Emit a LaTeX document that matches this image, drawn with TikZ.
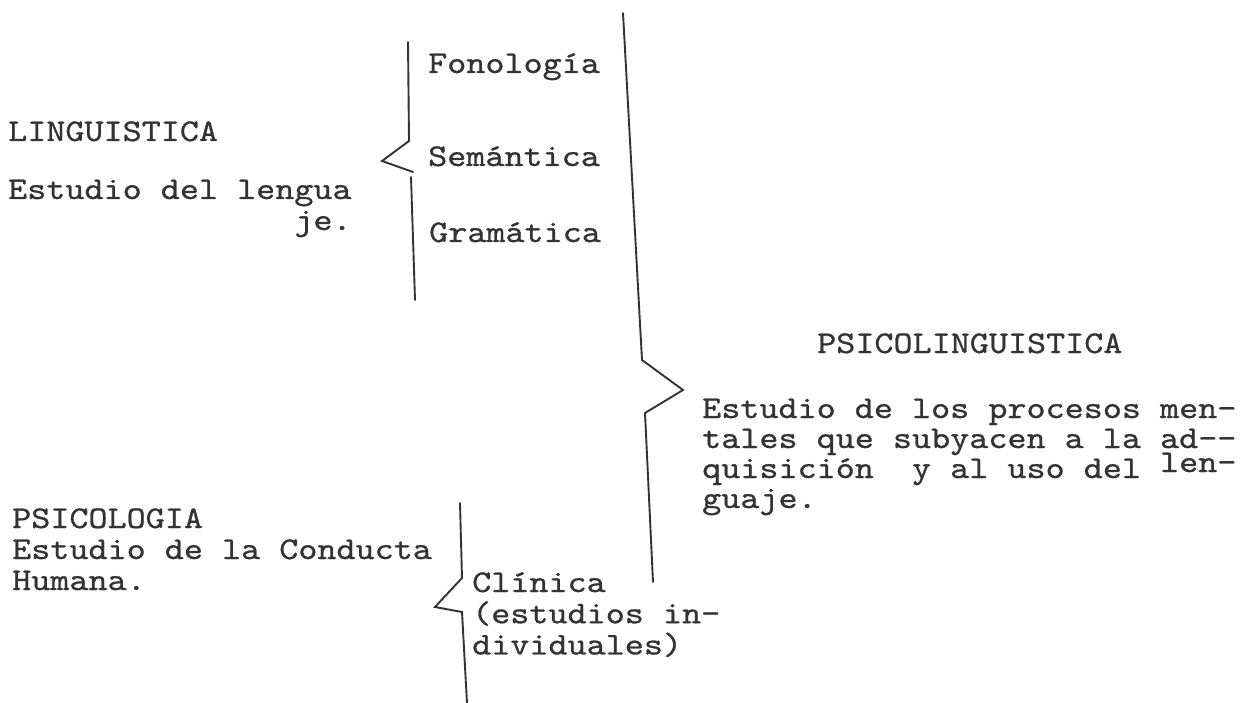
\documentclass[tikz,border=0pt]{standalone}
\usepackage{fontspec}
\usepackage{xcolor}
\usepackage{tikz}
\usetikzlibrary{positioning,calc}
\newfontfamily\tw{lmmono10-regular.otf}[FakeStretch=1.15,FakeBold=0.8]
\definecolor{ink}{gray}{0.2}
\newcommand\txtblock[1]{\begin{tabular}[t]{@{}l@{}}#1\end{tabular}}
\tikzset{
  txt/.style={anchor=base west, inner sep=0pt, text=ink, font=\tw\fontsize{31.6}{31}\selectfont},
  brace/.style={draw=ink, line width=1.9pt, line join=miter, line cap=round}
}

\begin{document}
\begin{tikzpicture}[x=1pt,y=-1pt]
    \useasboundingbox (0,0) rectangle (1248,703);

    % Linguistica
    \node [txt] (ling) at (8,141) {LINGUISTICA};
    \node [txt] (lingdef) at (8,199) {\txtblock{Estudio del lengua\\ \phantom{Estudio del len}je.}};
    \node [txt] (fono) at (428,73) {Fonología};
    \node [txt] (sema) at (428,166) {Semántica};
    \node [txt] (gram) at (429,242) {Gramática};

    % Psicolinguistica
    \node [txt] (psicoling) at (817,353) {PSICOLINGUISTICA};
    \node [txt] (psicolingdef) at (702,418) {\txtblock{Estudio de los procesos men-\\[-1pt]
        tales que subyacen a la ad-{}-\\[-1pt]
        quisición\ \ y al uso del \smash{\raisebox{6pt}{len-}}\\[-1pt]
        guaje.}};

    % Psicologia
    \node [txt] (psico) at (12,528) {\txtblock{PSICOLOGIA\\ Estudio de la Conducta\\ Humana.}};
    \node [txt] (clin) at (472,592) {\txtblock{Clínica\\ (estudios in-\\ dividuales)}};

    % Brackets
    \draw [brace] (408,42) -- (409,141) -- (382,161) -- (413,172);
    \draw [brace] (411,177) -- (415,300);
    \draw [brace] (623,13) -- (642,360) -- (683,390) -- (645,413) -- (653,582);
    \draw [brace] (460,503) -- (462,578) -- (435,607) -- (462,612) -- (467,703);
\end{tikzpicture}
\end{document}
